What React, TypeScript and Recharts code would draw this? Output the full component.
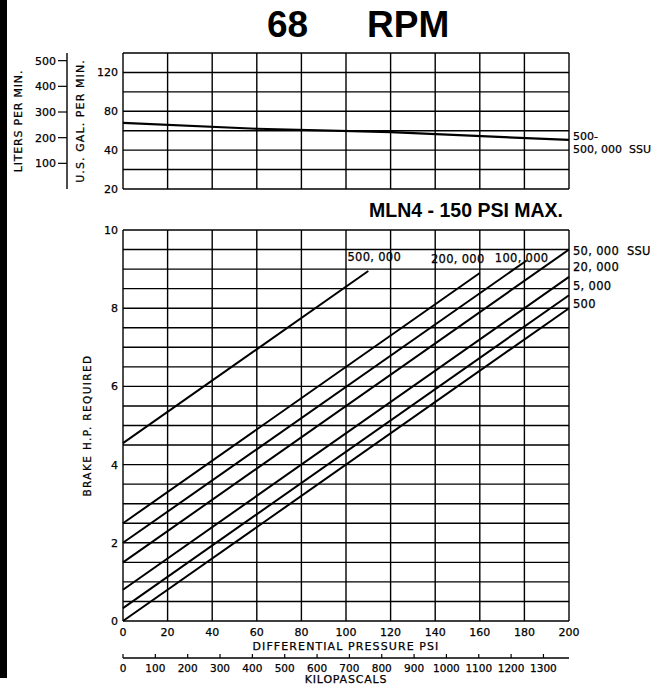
import React from 'react';
import { LineChart, Line, XAxis, YAxis, CartesianGrid, Label } from 'recharts';

// ---------- text ----------
const titleSpeed = '68';
const titleUnit = 'RPM';
const modelTitle = 'MLN4 - 150 PSI MAX.';
const litersTitle = 'LITERS PER MIN.';
const gallonsTitle = 'U.S. GAL. PER MIN.';
const hpTitle = 'BRAKE H.P. REQUIRED';
const psiTitle = 'DIFFERENTIAL PRESSURE PSI';
const kpaTitle = 'KILOPASCALS';

// ---------- top chart (capacity) ----------
const flowPsi = [0, 60, 120, 200];
const flowGpm = [68, 62, 58.5, 50.5];
const flowLabelLine1 = '500-';
const flowLabelLine2 = '500, 000  SSU';

// ---------- ticks ----------
const psiTicks = [0, 20, 40, 60, 80, 100, 120, 140, 160, 180, 200];
const gpmGridTicks = [0, 20, 40, 60, 80, 100, 120, 140];
const gpmTickLabels: Record<number, string> = { 0: '20', 40: '40', 80: '80', 120: '120' };
const lpmTicks = [100, 200, 300, 400, 500];
const kpaTicks = [0, 100, 200, 300, 400, 500, 600, 700, 800, 900, 1000, 1100, 1200, 1300];
const hpGridTicks = [0, 0.5, 1, 1.5, 2, 2.5, 3, 3.5, 4, 4.5, 5, 5.5, 6, 6.5, 7, 7.5, 8, 8.5, 9, 9.5, 10];
const hpLabelTicks = [0, 2, 4, 6, 8, 10];

// ---------- bottom chart (brake hp per viscosity) ----------
const viscLabels = ['500', '5, 000', '20, 000', '50, 000  SSU', '100, 000', '200, 000', '500, 000'];
const startHp = [0, 0.33, 0.8, 1.5, 2.0, 2.5, 4.55];
const endPsi = [200, 200, 200, 200, 181, 160, 110];
const endHp = [8.0, 8.33, 8.8, 9.5, 9.22, 8.9, 8.95];

// unit conversions
const LPM_PER_GPM = 3.785;
const KPA_PER_PSI = 6.895;

// label placement (styling)
const viscLabelPlacement = [
  { dx: 4, dy: 0, anchor: 'start' },
  { dx: 4, dy: -5, anchor: 'start' },
  { dx: 4, dy: -6, anchor: 'start' },
  { dx: 4, dy: 5, anchor: 'start' },
  { dx: -5, dy: 2, anchor: 'middle' },
  { dx: -22, dy: -10, anchor: 'middle' },
  { dx: 6, dy: -10, anchor: 'middle' },
];

const FONT = '"DejaVu Sans", sans-serif';
const INK = '#000';
const GRID_W = 1.4;
const TXT = { fontFamily: FONT, fill: INK, stroke: INK, strokeWidth: 0.25 };

const GpmTick = (props: any) => {
  const { x, y, payload } = props;
  const t = gpmTickLabels[payload.value];
  if (!t) return <g />;
  return (
    <text x={x - 5} y={y + 4} textAnchor="end" fontSize={11} {...TXT}>
      {t}
    </text>
  );
};

const LpmTick = (props: any) => {
  const { x, y, payload } = props;
  return (
    <text x={x} y={y + 4} textAnchor="end" fontSize={11} {...TXT}>
      {payload.value}
    </text>
  );
};

const HpTick = (props: any) => {
  const { x, y, payload } = props;
  if (!hpLabelTicks.includes(payload.value)) return <g />;
  return (
    <text x={x - 5} y={y + 4} textAnchor="end" fontSize={11} {...TXT}>
      {payload.value}
    </text>
  );
};

const PsiTick = (props: any) => {
  const { x, y, payload } = props;
  return (
    <text x={x} y={y + 15} textAnchor="middle" fontSize={11} {...TXT}>
      {payload.value}
    </text>
  );
};

const KpaTick = (props: any) => {
  const { x, y, payload } = props;
  return (
    <g>
      <line x1={x} y1={y - 4} x2={x} y2={y} stroke={INK} strokeWidth={1.2} />
      <text x={x} y={y + 14} textAnchor="middle" fontSize={10.5} {...TXT}>
        {payload.value}
      </text>
    </g>
  );
};

const EmptyTick = () => <g />;

const verticalTitle = (text: string, cx: number, fontSize: number, spacing: number) => (props: any) => {
  const vb = props.viewBox || {};
  const cy = vb.y + vb.height / 2;
  return (
    <text
      transform={`translate(${cx}, ${cy}) rotate(-90)`}
      textAnchor="middle"
      dominantBaseline="central"
      fontSize={fontSize}
      letterSpacing={spacing}
      {...TXT}
    >
      {text}
    </text>
  );
};

const horizontalTitle = (text: string, dy: number, spacing: number) => (props: any) => {
  const vb = props.viewBox || {};
  return (
    <text
      x={vb.x + vb.width / 2}
      y={vb.y + dy}
      textAnchor="middle"
      fontSize={11}
      letterSpacing={spacing}
      {...TXT}
    >
      {text}
    </text>
  );
};

const makeViscLabel = (i: number) => (props: any) => {
  const { x, y, index } = props;
  if (index !== 1) return <g />;
  const p = viscLabelPlacement[i];
  return (
    <text
      x={x + p.dx}
      y={y + p.dy}
      textAnchor={p.anchor as any}
      fontSize={11.5}
      letterSpacing={0.3}
      {...TXT}
      style={{ whiteSpace: 'pre' }}
    >
      {viscLabels[i]}
    </text>
  );
};

const flowEndLabel = (props: any) => {
  const { x, y, index } = props;
  if (index !== flowPsi.length - 1) return <g />;
  return (
    <g>
      <text x={x + 4} y={y} fontSize={11} {...TXT}>
        {flowLabelLine1}
      </text>
      <text x={x + 4} y={y + 13} fontSize={11} {...TXT} style={{ whiteSpace: 'pre' }}>
        {flowLabelLine2}
      </text>
    </g>
  );
};

export default function App() {
  const topData = flowPsi.map((p, i) => ({ psi: p, gpm: flowGpm[i] }));
  const axisRows = psiTicks.map((p) => ({ psi: p, kpa: p * KPA_PER_PSI }));
  const seriesData = viscLabels.map((_, i) => [
    { psi: 0, hp: startHp[i] },
    { psi: endPsi[i], hp: endHp[i] },
  ]);

  return (
    <div
      style={{
        position: 'absolute',
        left: 0,
        top: 0,
        width: 656,
        height: 688,
        background: '#fff',
        overflow: 'hidden',
      }}
    >
      {/* top capacity chart */}
      <div style={{ position: 'absolute', left: 0, top: 0 }}>
        <LineChart
          width={656}
          height={200}
          data={topData}
          margin={{ top: 53, right: 87, bottom: 11, left: 8 }}
        >
          <CartesianGrid
            yAxisId="gal"
            stroke={INK}
            strokeWidth={GRID_W}
            fill="none"
            verticalValues={psiTicks}
            horizontalValues={gpmGridTicks}
          />
          <XAxis
            dataKey="psi"
            type="number"
            domain={[0, 200]}
            ticks={psiTicks}
            interval={0}
            height={0}
            tick={<EmptyTick />}
            axisLine={false}
            tickLine={false}
          />
          <YAxis
            yAxisId="gal"
            type="number"
            domain={[0, 140]}
            ticks={gpmGridTicks}
            interval={0}
            width={56}
            axisLine={false}
            tickLine={false}
            tickSize={0}
            tickMargin={0}
            tick={<GpmTick />}
          >
            <Label content={verticalTitle(gallonsTitle, 80, 11, 1.1)} />
          </YAxis>
          <YAxis
            yAxisId="lpm"
            type="number"
            domain={[0, 140 * LPM_PER_GPM]}
            allowDataOverflow
            ticks={lpmTicks}
            interval={0}
            width={59}
            axisLine={{ stroke: INK, strokeWidth: 1.4 }}
            tickLine={{ stroke: INK, strokeWidth: 1.2 }}
            tickSize={9}
            tickMargin={2}
            tick={<LpmTick />}
          >
            <Label content={verticalTitle(litersTitle, 18, 11, 0.8)} />
          </YAxis>
          <Line
            yAxisId="gal"
            dataKey="gpm"
            stroke={INK}
            strokeWidth={2.2}
            dot={false}
            isAnimationActive={false}
            label={flowEndLabel}
          />
        </LineChart>
      </div>

      {/* bottom brake horsepower chart */}
      <div style={{ position: 'absolute', left: 0, top: 222 }}>
        <LineChart
          width={656}
          height={466}
          data={axisRows}
          margin={{ top: 8, right: 87, bottom: 0, left: 8 }}
        >
          <CartesianGrid stroke={INK} strokeWidth={GRID_W} fill="none" />
          <XAxis
            dataKey="psi"
            type="number"
            domain={[0, 200]}
            ticks={psiTicks}
            interval={0}
            height={37}
            axisLine={false}
            tickLine={false}
            tickSize={0}
            tickMargin={0}
            tick={<PsiTick />}
          >
            <Label content={horizontalTitle(psiTitle, 29, 1.1)} />
          </XAxis>
          <XAxis
            xAxisId="kpa"
            dataKey="kpa"
            type="number"
            domain={[0, 200 * KPA_PER_PSI]}
            allowDataOverflow
            ticks={kpaTicks}
            interval={0}
            height={30}
            axisLine={{ stroke: INK, strokeWidth: 1.3 }}
            tickLine={false}
            tickSize={0}
            tickMargin={0}
            tick={<KpaTick />}
          >
            <Label content={horizontalTitle(kpaTitle, 25, 0.8)} />
          </XAxis>
          <YAxis
            type="number"
            domain={[0, 10]}
            ticks={hpGridTicks}
            interval={0}
            width={115}
            axisLine={false}
            tickLine={false}
            tickSize={0}
            tickMargin={0}
            tick={<HpTick />}
          >
            <Label content={verticalTitle(hpTitle, 87, 10.5, 1.4)} />
          </YAxis>
          {seriesData.map((d, i) => (
            <Line
              key={viscLabels[i]}
              data={d}
              dataKey="hp"
              stroke={INK}
              strokeWidth={2}
              dot={false}
              isAnimationActive={false}
              label={makeViscLabel(i)}
            />
          ))}
        </LineChart>
      </div>

      {/* titles and scan edge */}
      <svg
        width={656}
        height={688}
        style={{ position: 'absolute', left: 0, top: 0, pointerEvents: 'none' }}
      >
        <rect x={0} y={0} width={7} height={678} fill="#000" />
        <text
          x={267}
          y={37}
          fontSize={37}
          fontWeight="bold"
          fontFamily='"Liberation Sans", Arial, sans-serif'
          fill={INK}
        >
          {titleSpeed}
        </text>
        <text
          x={367}
          y={37}
          fontSize={37}
          fontWeight="bold"
          fontFamily='"Liberation Sans", Arial, sans-serif'
          fill={INK}
        >
          {titleUnit}
        </text>
        <text
          x={563}
          y={217}
          fontSize={19.5}
          fontWeight="bold"
          textAnchor="end"
          fontFamily='"Liberation Sans", Arial, sans-serif'
          fill={INK}
        >
          {modelTitle}
        </text>
      </svg>
    </div>
  );
}
